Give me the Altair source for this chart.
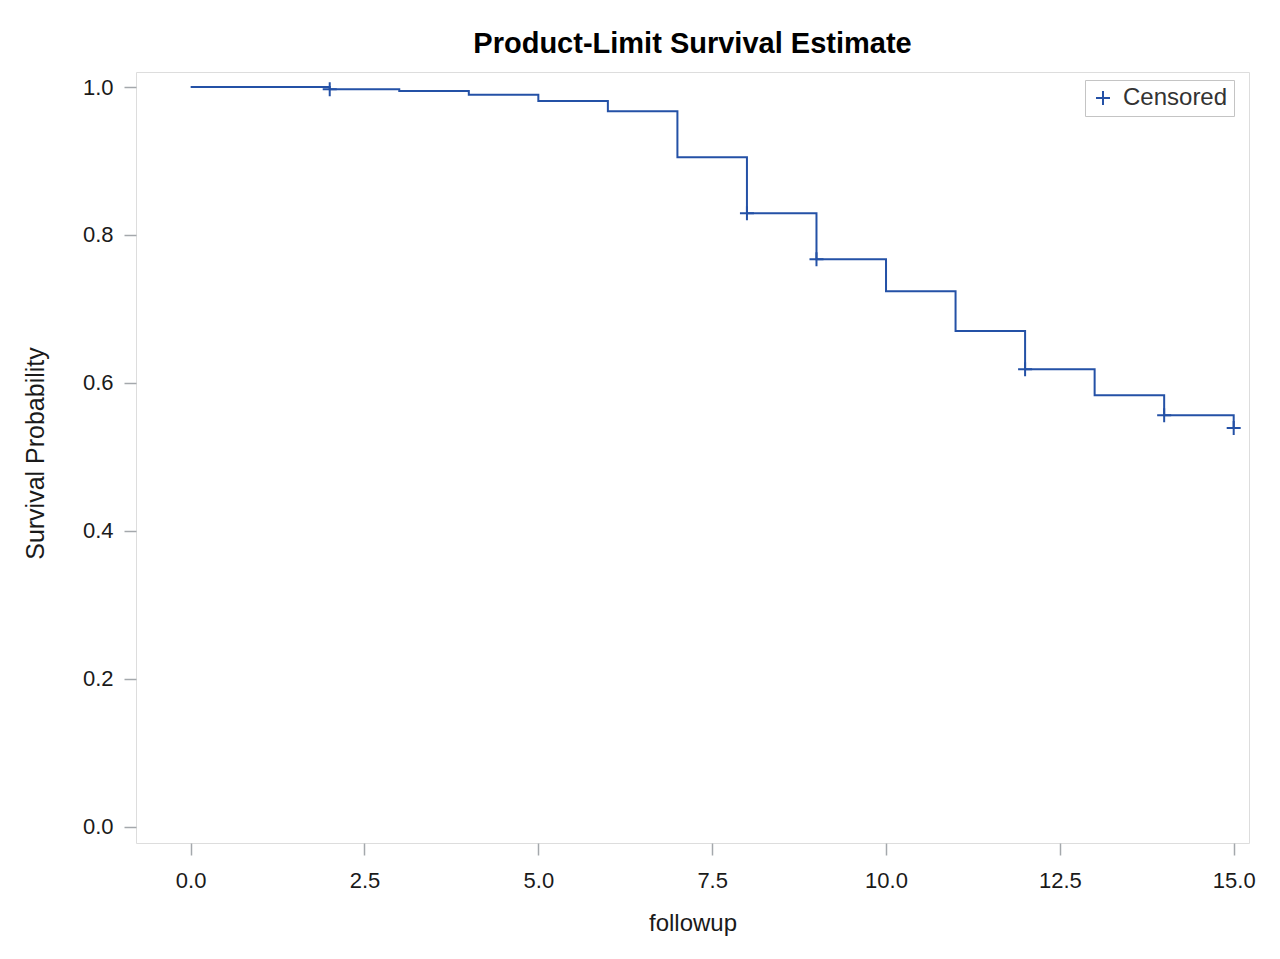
import altair as alt
import pandas as pd

# Kaplan-Meier step values
times = [0, 2, 3, 4, 5, 6, 7, 8, 9, 10, 11, 12, 13, 14, 15]
survival = [1.0, 0.9969, 0.9946, 0.9897, 0.9811, 0.9672, 0.9050, 0.8293,
            0.7672, 0.7239, 0.6703, 0.6185, 0.5834, 0.5564, 0.5392]

# Censored observations
censor_times = [2, 8, 9, 12, 14, 15]
censor_surv = [0.9969, 0.8293, 0.7672, 0.6185, 0.5564, 0.5392]
censor_label = ["Censored"] * len(censor_times)

x_ticks = [0, 2.5, 5, 7.5, 10, 12.5, 15]
y_ticks = [0, 0.2, 0.4, 0.6, 0.8, 1.0]

BLUE = "#2451a6"
FRAME = "#a4a8ac"
FONT = "Liberation Sans"
PLUS = "M-1,0L1,0M0,-1L0,1"

df_line = pd.DataFrame({"followup": times, "surv": survival})
df_cens = pd.DataFrame({"followup": censor_times, "surv": censor_surv, "kind": censor_label})

x_scale = alt.Scale(domain=[-0.786, 15.22], nice=False, zero=False)
y_scale = alt.Scale(domain=[-0.0219, 1.0203], nice=False, zero=False)

x_axis = alt.Axis(values=x_ticks, format=".1f", title="followup", grid=False, domain=False,
                  tickSize=12, tickColor=FRAME, tickWidth=1.5,
                  labelFont=FONT, labelFontSize=22, labelColor="#1a1a1a",
                  labelBaseline="alphabetic", labelPadding=32, labelFlush=False,
                  titleFont=FONT, titleFontSize=24, titleFontWeight="normal",
                  titleColor="#1a1a1a", titleBaseline="alphabetic", titleY=87)
y_axis = alt.Axis(values=y_ticks, format=".1f", title="Survival Probability", grid=False,
                  domain=False, tickSize=12, tickColor=FRAME, tickWidth=1.5,
                  labelFont=FONT, labelFontSize=22, labelColor="#1a1a1a",
                  labelPadding=11, labelFlush=False,
                  titleFont=FONT, titleFontSize=25, titleFontWeight="normal",
                  titleColor="#1a1a1a", titleAngle=270, titleBaseline="alphabetic",
                  titleAlign="center", titleX=-92.7, titleY=381)

line = alt.Chart(df_line).mark_line(interpolate="step-after", color=BLUE, strokeWidth=2).encode(
    x=alt.X("followup:Q", scale=x_scale, axis=x_axis),
    y=alt.Y("surv:Q", scale=y_scale, axis=y_axis),
)

points = alt.Chart(df_cens).mark_point(filled=False, strokeWidth=2, size=196, opacity=1,
                                       color=BLUE).encode(
    x=alt.X("followup:Q", scale=x_scale, axis=x_axis),
    y=alt.Y("surv:Q", scale=y_scale, axis=y_axis),
    shape=alt.Shape("kind:N", scale=alt.Scale(range=[PLUS]),
                    legend=alt.Legend(title=None, orient="none", legendX=949, legendY=8,
                                      strokeColor="#c4c4c4", padding=6,
                                      labelFont=FONT, labelFontSize=24, labelColor="#333333",
                                      labelOffset=8,
                                      symbolStrokeColor=BLUE, symbolStrokeWidth=2,
                                      symbolSize=196, symbolFillColor="transparent")),
)

chart = alt.layer(line, points).properties(
    width=1113,
    height=771,
    autosize=alt.AutoSizeParams(type="none"),
    padding={"left": 128, "top": 64, "right": 20, "bottom": 100},
    title=alt.TitleParams("Product-Limit Survival Estimate", font=FONT, fontSize=29,
                          fontWeight="bold", color="#000000", anchor="middle",
                          baseline="alphabetic", offset=20, dy=30, frame="group"),
).configure_view(stroke=FRAME, strokeWidth=2).configure(background="white")

chart.save("out.html", embed_options={"renderer": "svg", "actions": False})
